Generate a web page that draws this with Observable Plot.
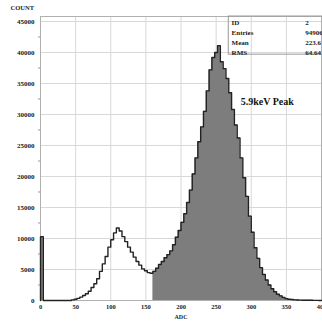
<!DOCTYPE html>
<html>
<head>
<meta charset="utf-8">
<script src="https://cdn.jsdelivr.net/npm/d3@7"></script>
<script src="https://cdn.jsdelivr.net/npm/@observablehq/plot@0.6"></script>
<style>
html,body{margin:0;padding:0;background:#fff;overflow:hidden;}
</style>
</head>
<body>
<div id="chart"></div>
<script>
// Histogram bins: start ADC of each 4-ADC bin and its count
const binWidth = 4;
const binStarts = d3.range(0, 400, 4);
const counts = [
  10300, 0, 0, 0, 0, 0, 0, 0, 0, 0,          // 0..36
  0, 100, 200, 350, 550, 800, 1100, 1500, 2100, 2700,   // 40..76
  3500, 4700, 5900, 7100, 8600, 9800, 10900, 11700, 11200, 10300, // 80..116
  9500, 8600, 7800, 7000, 6300, 5700, 5100, 4800, 4500, 4400,     // 120..156
  4700, 5200, 5800, 6300, 6900, 7400, 8000, 9000, 10200, 11300,   // 160..196
  12600, 14000, 15800, 17800, 20400, 23000, 25600, 28000, 30500, 33800, // 200..236
  37200, 39200, 40000, 41100, 38500, 37400, 35800, 33500, 30800, 28300, // 240..276
  26200, 23000, 19800, 16800, 13600, 11000, 8500, 6800, 5300, 4200,     // 280..316
  3300, 2500, 1900, 1400, 1000, 750, 500, 300, 200, 150,                // 320..356
  100, 80, 60, 50, 40, 30, 30, 20, 20, 10                               // 360..396
];
const fillStart = 160;           // selected 5.9 keV region
const xTicks = d3.range(0, 401, 50);
const yTicks = d3.range(0, 45001, 5000);
const yMinor = d3.range(2500, 45001, 5000);
const statLabels = ["ID", "Entries", "Mean", "RMS"];
const statValues = ["2", "949066", "223.6", "64.64"];
const peakLabel = "5.9keV Peak";

const bins = binStarts.map((x, i) => ({x1: x, y: counts[i]}));
const lastCount = counts[counts.length - 1];
const outline = [{x: 0, y: 0}, ...bins.map(b => ({x: b.x1, y: b.y})), {x: 400, y: lastCount}];
const filledArea = [...bins.map(b => ({x: b.x1, y: (b.x1 === 0 || b.x1 >= fillStart) ? b.y : 0})), {x: 400, y: lastCount}];

const statTop = 44750, statStep = 1600;
const stats = statLabels.map((l, i) => ({label: l, value: statValues[i], y: statTop - i * statStep}));

const font = "'Liberation Serif', 'Times New Roman', serif";
const fmt = d => String(d);

const chart = Plot.plot({
  width: 322,
  height: 323,
  marginLeft: 40,
  marginRight: 1,
  marginTop: 16,
  marginBottom: 23,
  style: {fontFamily: font, background: "#fff"},
  x: {domain: [0, 400]},
  y: {domain: [0, 45800]},
  marks: [
    Plot.gridX(xTicks, {stroke: "#d8d8d8", strokeOpacity: 1, strokeWidth: 1}),
    Plot.gridY(yTicks, {stroke: "#d8d8d8", strokeOpacity: 1, strokeWidth: 1}),
    Plot.frame({stroke: "#b0b0b0"}),
    Plot.areaY(filledArea, {x: "x", y: "y", curve: "step-after", fill: "#7d7d7d"}),
    Plot.line(outline, {x: "x", y: "y", curve: "step-after", stroke: "#222", strokeWidth: 1.4}),
    Plot.axisY({ticks: yTicks, tickFormat: fmt, tickSize: 0, tickPadding: 6, fontSize: 7, fontWeight: "bold", label: null, fill: "#222"}),
    Plot.axisY({ticks: yMinor, tickSize: 2, text: null, label: null, stroke: "#999"}),
    Plot.axisX({ticks: xTicks, tickFormat: fmt, tickSize: 0, tickPadding: 4, fontSize: 6.5, fontWeight: "bold", label: null, fill: "#222"}),
    Plot.text(["COUNT"], {frameAnchor: "top-left", dx: -30, dy: -11, fontSize: 6.5, fontWeight: "bold", textAnchor: "start", fill: "#222"}),
    Plot.text(["ADC"], {x: 200, frameAnchor: "bottom", dy: 18, fontSize: 6, fontWeight: "bold", fill: "#222"}),
    Plot.rect([{x1: 268, x2: 410, y1: 39650, y2: 45800}], {x1: "x1", x2: "x2", y1: "y1", y2: "y2", fill: "none", stroke: "#999", strokeWidth: 1}),
    Plot.text(stats, {x: 272, y: "y", text: "label", textAnchor: "start", fontSize: 7, fontWeight: "bold", fill: "#222"}),
    Plot.text(stats, {x: 377, y: "y", text: "value", textAnchor: "start", fontSize: 7, fontWeight: "bold", fill: "#222"}),
    Plot.text([peakLabel], {x: 285, y: 32000, textAnchor: "start", fontSize: 10, fontWeight: "bold", fill: "#111"})
  ]
});
document.getElementById("chart").appendChild(chart);
</script>
</body>
</html>
